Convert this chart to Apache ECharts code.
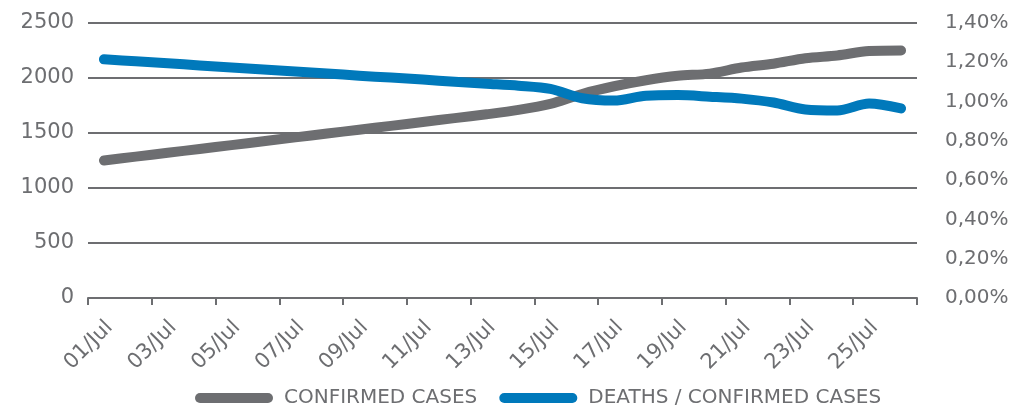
<!DOCTYPE html>
<html>
<head>
<meta charset="utf-8">
<script src="https://cdn.jsdelivr.net/npm/echarts@6/dist/echarts.min.js"></script>
<style>
  html, body { margin: 0; padding: 0; background: #fff; }
  #chart { width: 1016px; height: 405px; }
</style>
</head>
<body>
<div id="chart"></div>
<script>
// ---- data ----
const days = [
    "01/Jul", "02/Jul", "03/Jul", "04/Jul", "05/Jul", "06/Jul", "07/Jul",
    "08/Jul", "09/Jul", "10/Jul", "11/Jul", "12/Jul", "13/Jul", "14/Jul",
    "15/Jul", "16/Jul", "17/Jul", "18/Jul", "19/Jul", "20/Jul", "21/Jul",
    "22/Jul", "23/Jul", "24/Jul", "25/Jul", "26/Jul"
];

const confirmedCases = [
    1250, 1285, 1320, 1355, 1390, 1425, 1460, 1495, 1530, 1565,
    1600, 1635, 1670, 1710, 1765, 1855, 1925, 1980, 2020, 2040,
    2095, 2130, 2180, 2205, 2245, 2250
];

// percent
const deathRatio = [
    1.215, 1.205, 1.195, 1.184, 1.174, 1.163, 1.153, 1.143, 1.132, 1.122,
    1.112, 1.101, 1.091, 1.081, 1.065, 1.017, 1.005, 1.030, 1.033, 1.025,
    1.015, 0.995, 0.960, 0.955, 0.990, 0.965
];

const leftTicks = { min: 0, max: 2500, interval: 500 };
const rightTicks = { min: 0, max: 1.4, interval: 0.2 };

const GREY = "#6d6e71";
const BLUE = "#0079bb";
const FONT = "'DejaVu Sans', sans-serif";

// rounded bar used as legend icon
const capsule = "path://M5,0 H73 A5,5 0 0 1 73,10 H5 A5,5 0 0 1 5,0 Z";

const chart = echarts.init(document.getElementById("chart"));

chart.setOption({
    animation: false,
    grid: {
        left: 88,
        right: 99,
        top: 23,
        bottom: 107
    },
    legend: {
        top: 383,
        left: 190,
        itemWidth: 78,
        itemHeight: 10,
        itemGap: 22,
        textStyle: {
            color: GREY,
            fontSize: 20,
            fontFamily: FONT,
            padding: [0, 0, 0, 6]
        },
        data: [
            { name: "CONFIRMED CASES", icon: capsule, itemStyle: { color: GREY } },
            { name: "DEATHS / CONFIRMED CASES", icon: capsule, itemStyle: { color: BLUE } }
        ]
    },
    xAxis: {
        type: "category",
        data: days,
        boundaryGap: true,
        axisLine: { lineStyle: { color: GREY, width: 2 } },
        axisTick: {
            show: true,
            interval: 1,
            length: 7,
            lineStyle: { color: GREY, width: 2 }
        },
        axisLabel: {
            interval: 1,
            rotate: 45,
            color: GREY,
            fontSize: 21,
            fontFamily: FONT,
            margin: 32,
            padding: [0, -8, 0, 0]
        }
    },
    yAxis: [
        {
            type: "value",
            min: leftTicks.min,
            max: leftTicks.max,
            interval: leftTicks.interval,
            axisLine: { show: false },
            axisTick: { show: false },
            axisLabel: {
                color: GREY,
                fontSize: 21,
                fontFamily: FONT,
                margin: 14,
                formatter: v => String(v)
            },
            splitLine: { lineStyle: { color: GREY, width: 2 } }
        },
        {
            type: "value",
            position: "right",
            min: rightTicks.min,
            max: rightTicks.max,
            interval: rightTicks.interval,
            axisLine: { show: false },
            axisTick: { show: false },
            splitLine: { show: false },
            axisLabel: {
                color: GREY,
                fontSize: 20,
                fontFamily: FONT,
                margin: 28,
                formatter: v => v.toFixed(2).replace(".", ",") + "%"
            }
        }
    ],
    series: [
        {
            name: "CONFIRMED CASES",
            type: "line",
            yAxisIndex: 0,
            data: confirmedCases,
            smooth: 0.3,
            showSymbol: false,
            lineStyle: { color: GREY, width: 10, cap: "round", join: "round" },
            itemStyle: { color: GREY }
        },
        {
            name: "DEATHS / CONFIRMED CASES",
            type: "line",
            yAxisIndex: 1,
            data: deathRatio,
            smooth: 0.3,
            showSymbol: false,
            lineStyle: { color: BLUE, width: 10, cap: "round", join: "round" },
            itemStyle: { color: BLUE }
        }
    ]
});
</script>
</body>
</html>
